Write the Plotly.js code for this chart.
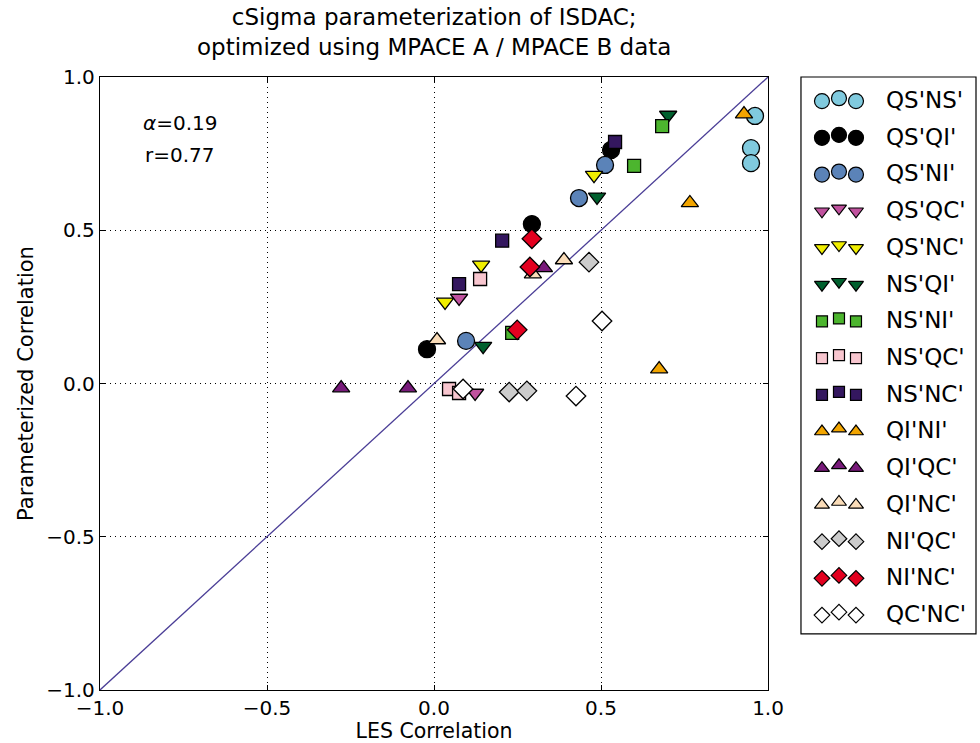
<!DOCTYPE html>
<html><head><meta charset="utf-8">
<script src="https://cdn.plot.ly/plotly-3.0.1.min.js"></script>
<style>body{margin:0;background:#fff}#c{width:980px;height:743px}</style>
</head><body><div id="c"></div>
<script>
// ---- data ----
const seriesNames = ["QS'NS'","QS'QI'","QS'NI'","QS'QC'","QS'NC'","NS'QI'","NS'NI'","NS'QC'","NS'NC'","QI'NI'","QI'QC'","QI'NC'","NI'QC'","NI'NC'","QC'NC'"];
const x_QSNS = [0.961, 0.949, 0.949];   const y_QSNS = [0.873, 0.768, 0.719];
const x_QSQI = [0.293, 0.530, -0.021];  const y_QSQI = [0.520, 0.762, 0.112];
const x_QSNI = [0.512, 0.434, 0.096];   const y_QSNI = [0.713, 0.605, 0.139];
const x_QSQC = [0.075, 0.123];          const y_QSQC = [0.279, -0.031];
const x_QSNC = [0.479, 0.141, 0.033];   const y_QSNC = [0.680, 0.387, 0.266];
const x_NSQI = [0.701, 0.488, 0.147];   const y_NSQI = [0.876, 0.609, 0.122];
const x_NSNI = [0.683, 0.599, 0.234];   const y_NSNI = [0.840, 0.710, 0.165];
const x_NSQC = [0.138, 0.045, 0.075];   const y_NSQC = [0.341, -0.018, -0.031];
const x_NSNC = [0.542, 0.204, 0.075];   const y_NSNC = [0.788, 0.466, 0.324];
const x_QINI = [0.928, 0.766, 0.674];   const y_QINI = [0.879, 0.589, 0.047];
const x_QIQC = [0.329, -0.078, -0.278]; const y_QIQC = [0.377, -0.015, -0.015];
const x_QINC = [0.389, 0.296, 0.009];   const y_QINC = [0.403, 0.357, 0.142];
const x_NIQC = [0.464, 0.225, 0.278];   const y_NIQC = [0.396, -0.028, -0.024];
const x_NINC = [0.293, 0.287, 0.249];   const y_NINC = [0.472, 0.380, 0.175];
const x_QCNC = [0.503, 0.425, 0.087];   const y_QCNC = [0.204, -0.041, -0.018];
const oneToOneX = [-1, 1];
const oneToOneY = [-1, 1];
const alphaValue = 0.19;
const rValue = 0.77;
const titleText = 'cSigma parameterization of ISDAC;<br>optimized using MPACE A / MPACE B data';

// ---- styles ----
const xs = [x_QSNS,x_QSQI,x_QSNI,x_QSQC,x_QSNC,x_NSQI,x_NSNI,x_NSQC,x_NSNC,x_QINI,x_QIQC,x_QINC,x_NIQC,x_NINC,x_QCNC];
const ys = [y_QSNS,y_QSQI,y_QSNI,y_QSQC,y_QSNC,y_NSQI,y_NSNI,y_NSQC,y_NSNC,y_QINI,y_QIQC,y_QINC,y_NIQC,y_NINC,y_QCNC];
const colors = ['#80cade','#000000','#5b83b8','#c0529e','#f0ee00','#00602e','#4cb52e','#f8c6cf','#34175f','#f2a500','#781a7a','#fadcb8','#cccccc','#e3001f','#ffffff'];
const symbols = ['circle','circle','circle','triangle-down','triangle-down','triangle-down','square','square','square','triangle-up','triangle-up','triangle-up','diamond','diamond','diamond'];
const sizeFor = {'circle':17,'triangle-down':15,'triangle-up':15,'square':13,'diamond':15};
const legSizeFor = {'circle':15,'triangle-down':13,'triangle-up':13,'square':11,'diamond':12};
const FONT = 'DejaVu Sans, sans-serif';

const traces = [];
traces.push({x: oneToOneX, y: oneToOneY, mode:'lines', line:{color:'#4a3d96', width:1.3}, showlegend:false, hoverinfo:'skip', xaxis:'x', yaxis:'y'});
seriesNames.forEach((n,i)=>{
  traces.push({x: xs[i], y: ys[i], mode:'markers', name:n, showlegend:false, xaxis:'x', yaxis:'y', cliponaxis:false,
    marker:{symbol:symbols[i], color:colors[i], size:sizeFor[symbols[i]], line:{color:'#000', width:1.3}}});
});
// custom legend (3 markers per entry, like the original)
const annotations = [];
seriesNames.forEach((n,i)=>{
  traces.push({x:[21,38,55], y:[i+0.03, i-0.05, i+0.03], mode:'markers', showlegend:false, hoverinfo:'skip', xaxis:'x2', yaxis:'y2', cliponaxis:false,
    marker:{symbol:symbols[i], color:colors[i], size:legSizeFor[symbols[i]], line:{color:'#000', width:1.2}}});
  annotations.push({xref:'x2', yref:'y2', x:83, y:i, text:n, showarrow:false, xanchor:'left', yanchor:'middle', font:{family:FONT, size:23, color:'#000'}});
});
annotations.push({xref:'x', yref:'y', x:-0.76, y:0.849, text:'<i>α</i>=' + alphaValue.toFixed(2), showarrow:false, font:{family:FONT, size:20, color:'#000'}});
annotations.push({xref:'x', yref:'y', x:-0.76, y:0.745, text:'r=' + rValue.toFixed(2), showarrow:false, font:{family:FONT, size:20, color:'#000'}});
annotations.push({xref:'paper', yref:'paper', x:0.3813, y:1.0726, xanchor:'center', yanchor:'middle', text:titleText, showarrow:false, font:{family:FONT, size:23, color:'#000'}});

const axCommon = {showline:true, mirror:'ticks', linecolor:'#000', linewidth:1.2, ticks:'inside', ticklen:5, tickcolor:'#000',
  showgrid:true, gridcolor:'#000', griddash:'1px,4px', gridwidth:1, zeroline:false, dtick:0.5, tickformat:'.1f',
  tickfont:{family:FONT, size:20, color:'#000'}};

const layout = {
  width:980, height:743, paper_bgcolor:'#fff', plot_bgcolor:'#fff',
  margin:{l:100, r:4, t:77, b:53},
  font:{family:FONT, color:'#000'},
  xaxis:Object.assign({}, axCommon, {domain:[0, 0.7626], range:[-1,1], anchor:'y',
    title:{text:'LES Correlation', font:{family:FONT, size:20.5, color:'#000'}, standoff:4}}),
  yaxis:Object.assign({}, axCommon, {domain:[0,1], range:[-1,1], anchor:'x',
    title:{text:'Parameterized Correlation', font:{family:FONT, size:21, color:'#000'}, standoff:6}}),
  xaxis2:{domain:[0.8002, 1.0], range:[0,175], anchor:'y2', visible:false, fixedrange:true},
  yaxis2:{domain:[0.0914, 1.0], range:[14.545, -0.627], anchor:'x2', visible:false, fixedrange:true},
  shapes:[{type:'rect', xref:'x2 domain', yref:'y2 domain', x0:0, x1:1, y0:0, y1:1, line:{color:'#000', width:1.2}, fillcolor:'rgba(0,0,0,0)', layer:'below'}],
  annotations:annotations,
  showlegend:false
};
Plotly.newPlot('c', traces, layout, {displayModeBar:false, staticPlot:true});
</script></body></html>
